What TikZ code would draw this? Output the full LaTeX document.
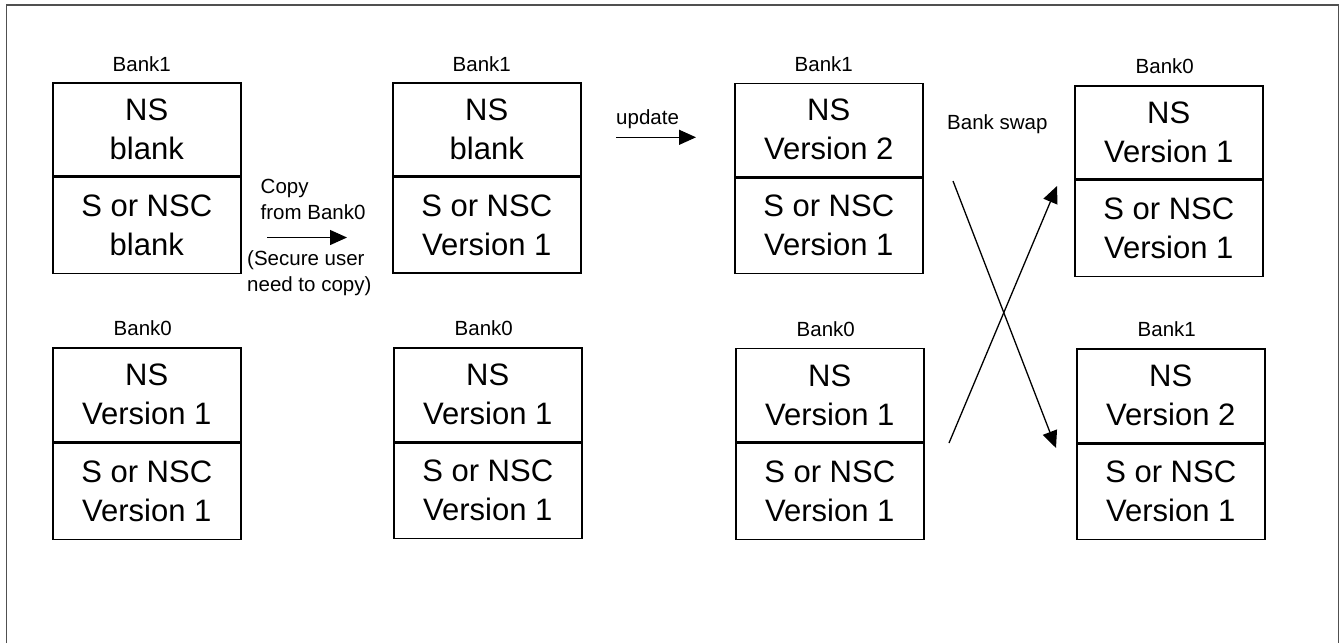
\documentclass[tikz,border=0pt]{standalone}
\usepackage{fontspec}
\setmainfont{Liberation Sans}
\usetikzlibrary{arrows.meta}
\begin{document}
\begin{tikzpicture}[x=1pt,y=-1pt,
  half/.style={draw, line width=1.5pt, minimum width=188pt, inner sep=0pt, align=center, anchor=north west, font=\fontsize{31}{39}\selectfont},
  lbl/.style={font=\fontsize{20.5}{26}\selectfont, inner sep=0pt, anchor=base},
  note/.style={font=\fontsize{20.5}{26}\selectfont, inner sep=0pt, align=left, anchor=north west},
  arr/.style={line width=1.3pt, -{Triangle[length=17pt,width=15pt]}},
  frame/.style={line width=1.8pt, draw={rgb,255:red,80;green,80;blue,80}}]
\useasboundingbox[fill=white] (0,0) rectangle (1340,643);
\draw[frame] (6.5,643) -- (6.5,5) -- (1338.5,5) -- (1338.5,643);

% upper row
\node[half, minimum height=93pt] (a1) at (52,82) {NS\\blank};
\node[half, minimum height=96pt] (b1) at (a1.south west) {S or NSC\\blank};
\node[half, minimum height=93pt] (a2) at (392,82) {NS\\blank};
\node[half, minimum height=95.5pt] (b2) at (a2.south west) {S or NSC\\Version 1};
\node[half, minimum height=93pt] (a3) at (734,82.5) {NS\\Version 2};
\node[half, minimum height=95.5pt] (b3) at (a3.south west) {S or NSC\\Version 1};
\node[half, minimum height=93pt] (a4) at (1074,85) {NS\\Version 1};
\node[half, minimum height=96pt] (b4) at (a4.south west) {S or NSC\\Version 1};

% lower row
\node[half, minimum height=94pt] (c1) at (52,347) {NS\\Version 1};
\node[half, minimum height=96pt] (d1) at (c1.south west) {S or NSC\\Version 1};
\node[half, minimum height=94pt] (c2) at (393,347) {NS\\Version 1};
\node[half, minimum height=95pt] (d2) at (c2.south west) {S or NSC\\Version 1};
\node[half, minimum height=93.5pt] (c3) at (735,347.5) {NS\\Version 1};
\node[half, minimum height=96pt] (d3) at (c3.south west) {S or NSC\\Version 1};
\node[half, minimum height=94pt] (c4) at (1076,348) {NS\\Version 2};
\node[half, minimum height=95pt] (d4) at (c4.south west) {S or NSC\\Version 1};

% bank labels
\node[lbl] (la1) at ([xshift=-5pt,yshift=11pt]a1.north) {Bank1};
\node[lbl] (la2) at ([xshift=-5pt,yshift=11pt]a2.north) {Bank1};
\node[lbl] (la3) at ([xshift=-5pt,yshift=11pt]a3.north) {Bank1};
\node[lbl] (la4) at ([xshift=-4pt,yshift=11.5pt]a4.north) {Bank0};
\node[lbl] (lc1) at ([xshift=-4pt,yshift=12pt]c1.north) {Bank0};
\node[lbl] (lc2) at ([xshift=-4pt,yshift=12pt]c2.north) {Bank0};
\node[lbl] (lc3) at ([xshift=-4pt,yshift=11.5pt]c3.north) {Bank0};
\node[lbl] (lc4) at ([xshift=-4pt,yshift=12pt]c4.north) {Bank1};

% copy step
\node[note] (copytxt) at (260.5,179) {Copy\\from Bank0};
\node[note] (securetxt) at (247,250) {(Secure user\\need to copy)};
\coordinate (cp1) at (267,237.5);
\coordinate (cp2) at (347,237.5);
\draw[arr] (cp1) -- (cp2);

% update step
\node[lbl, anchor=base west] (updtxt) at (616,124.3) {update};
\coordinate (up1) at (616,137.3);
\coordinate (up2) at (696,137.3);
\draw[arr] (up1) -- (up2);

% bank swap
\node[lbl, anchor=base west] (swaptxt) at (947,129) {Bank swap};
\coordinate (sa1) at (953,181);
\coordinate (sa2) at (1056,448);
\coordinate (sb1) at (949,443);
\coordinate (sb2) at (1057,186);
\draw[arr] (sa1) -- (sa2);
\draw[arr] (sb1) -- (sb2);
\end{tikzpicture}
\end{document}
